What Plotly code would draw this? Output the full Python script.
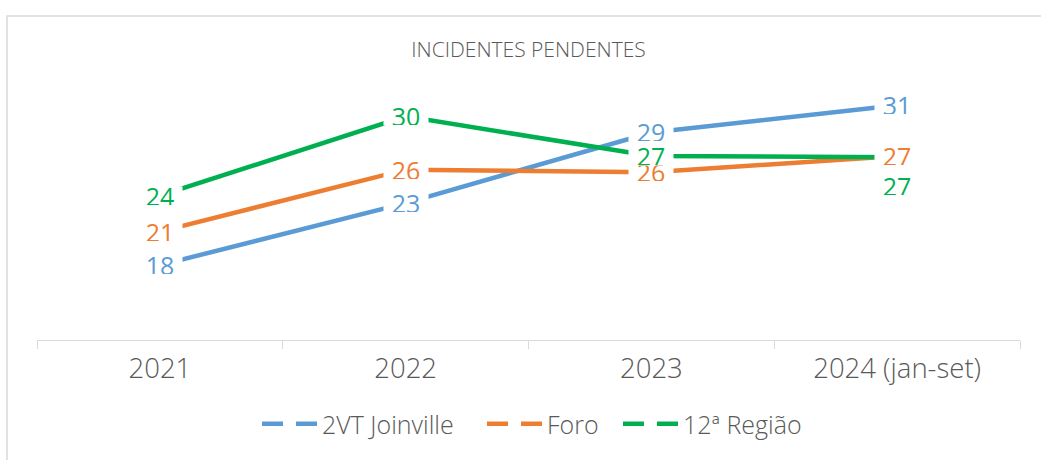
import plotly.graph_objects as go

# ---- data (labels show them rounded) ----
categories = ["2021", "2022", "2023", "2024 (jan-set)"]
joinville = [18.2, 23.2, 28.9, 31.1]
foro = [20.9, 25.9, 25.7, 27.0]
regiao = [23.8, 30.2, 27.0, 26.9]
series_names = ["2VT Joinville", "Foro", "12ª Região"]
title_text = "INCIDENTES PENDENTES"

# ---- styles ----
colors = ["#5B9BD5", "#ED7D31", "#00B050"]
label_yshift = [[0, 0, 0, 0], [0, 0, 0, 0], [0, 0, 0, -29]]
legend_ids = ["legend", "legend2", "legend3"]
legend_px = [262, 487, 623]
FONT = "Open Sans"
GRAY = "#595959"
LINE_GRAY = "#D9D9D9"

series = [joinville, foro, regiao]

fig = go.Figure()
annotations = []
for name, vals, col, shifts, lg in zip(series_names, series, colors, label_yshift, legend_ids):
    fig.add_trace(go.Scatter(
        x=categories, y=vals, mode="lines", name=name,
        line=dict(color=col, width=4.5),
        legendgroup=name, showlegend=False,
    ))
    # legend entry with dashed symbol
    fig.add_trace(go.Scatter(
        x=[None], y=[None], mode="lines", name=name,
        line=dict(color=col, width=4.5, dash="21px,13px"),
        legendgroup=name, showlegend=True, hoverinfo="skip", legend=lg,
    ))
    for i, (v, s) in enumerate(zip(vals, shifts)):
        annotations.append(dict(
            x=i, y=v, xref="x", yref="y", text=f"{v:.0f}", showarrow=False,
            yshift=s, bgcolor="white", width=44, height=18, borderpad=0,
            font=dict(family=FONT, size=25, color=col),
            xanchor="center", yanchor="middle",
        ))

legend_common = dict(
    orientation="h", xanchor="left", xref="paper",
    y=(340 - 424) / 270, yanchor="middle",
    font=dict(family=FONT, size=25, color=GRAY, weight=300),
    itemwidth=55, bgcolor="rgba(0,0,0,0)",
)
legends = {}
for lg, px in zip(legend_ids, legend_px):
    legends[lg] = dict(legend_common, x=(px - 5 - 37) / 983)

fig.update_layout(
    width=1041, height=460,
    margin=dict(l=37, r=21, t=70, b=120),
    paper_bgcolor="white", plot_bgcolor="white",
    title=dict(text=title_text, x=0.5, xref="paper", y=1 - 50 / 460,
               yref="container", xanchor="center", yanchor="middle",
               font=dict(family=FONT, size=21, color=GRAY, weight=300)),
    xaxis=dict(
        type="category", range=[-0.5, 3.5],
        showline=True, linecolor=LINE_GRAY, linewidth=1,
        ticks="outside", tickson="boundaries", ticklen=8, tickcolor=LINE_GRAY,
        showgrid=False, zeroline=False, ticklabelstandoff=4,
        tickfont=dict(family=FONT, size=27.5, color=GRAY, weight=300),
    ),
    yaxis=dict(range=[12.16, 33.94], visible=False, showgrid=False, zeroline=False),
    annotations=annotations,
    shapes=[dict(
        type="rect", xref="paper", yref="paper",
        x0=(7 - 37) / 983, x1=(1060 - 37) / 983,
        y0=(340 - 480) / 270, y1=1 + 54 / 270,
        line=dict(color=LINE_GRAY, width=1.5), fillcolor="rgba(0,0,0,0)",
        layer="below",
    )],
    showlegend=True,
    **legends,
)

fig.write_html("out.html", config={"displayModeBar": False},
               post_script="document.body.style.margin='0';")
